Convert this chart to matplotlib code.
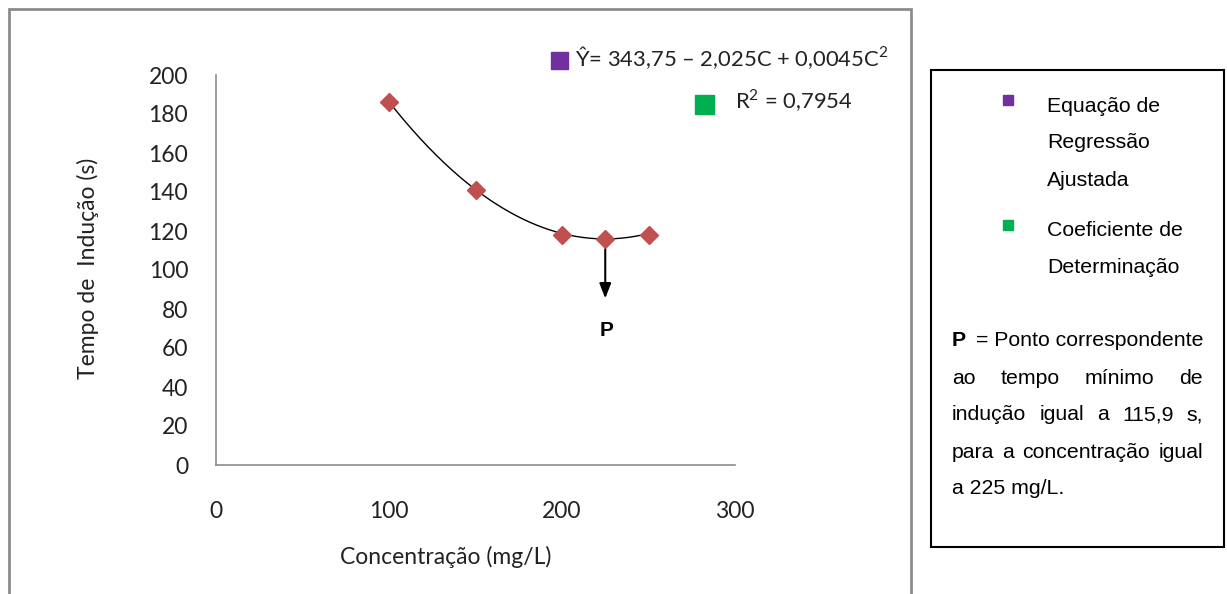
import numpy as np
import matplotlib.pyplot as plt
from matplotlib.patches import Rectangle

# dados
concentracao = [100, 150, 200, 225, 250]
tempo_inducao = [186, 141, 118, 116, 118]

# coeficientes da equacao de regressao (Y = a + bC + cC^2)
coef = [343.75, -2.025, 0.0045]

x_ticks = [0, 100, 200, 300]
y_ticks = list(range(0, 201, 20))

chart_font = "Lato"
box_font = "Liberation Sans"
plt.rcParams["mathtext.fontset"] = "custom"
plt.rcParams["mathtext.rm"] = chart_font

W, H = 1227, 594
fig = plt.figure(figsize=(W / 100, H / 100), dpi=100)
cfs = 16.5
txt = "#222222"


def px(x, y):
    return x / W, 1 - y / H


# moldura externa do grafico
x0, y0 = px(9, 9)
x1, y1 = px(911, 600)
fig.patches.append(Rectangle((x0, y1), x1 - x0, y0 - y1, transform=fig.transFigure,
                             fill=False, edgecolor="#8c8c8c", linewidth=2))

ax = fig.add_axes([216 / W, 1 - 465 / H, (735 - 216) / W, (465 - 75) / H])
ax.set_xlim(0, 300)
ax.set_ylim(0, 200)
ax.set_xticks(x_ticks)
ax.set_yticks(y_ticks)
ax.set_xticklabels([str(v) for v in x_ticks], fontfamily=chart_font, fontsize=cfs, color=txt)
ax.set_yticklabels([str(v) for v in y_ticks], fontfamily=chart_font, fontsize=cfs, color=txt)
ax.tick_params(length=0)
ax.tick_params(axis="x", pad=26)
ax.tick_params(axis="y", pad=20)
for s in ["top", "right"]:
    ax.spines[s].set_visible(False)
for s in ["left", "bottom"]:
    ax.spines[s].set_color("#8c8c8c")
    ax.spines[s].set_linewidth(1.2)

cc = np.linspace(min(concentracao), max(concentracao), 200)
ax.plot(cc, coef[0] + coef[1] * cc + coef[2] * cc ** 2, color="black", linewidth=1.0, zorder=2)
ax.plot(concentracao, tempo_inducao, linestyle="none", marker="D", markersize=9,
        color="#C0504D", zorder=3)

# seta indicando o ponto minimo
ax.annotate("", xy=(225, 84), xytext=(225, 112),
            arrowprops=dict(arrowstyle="-|>,head_width=0.35,head_length=0.9",
                            color="black", linewidth=1.5))
ax.text(226, 69, "P", ha="center", va="center", fontsize=15, fontweight="bold",
        fontfamily="Liberation Sans")

fig.text(*px(88, 268), "Tempo de  Indução (s)", rotation=90, ha="center", va="center",
         fontfamily=chart_font, fontsize=cfs, color=txt)
fig.text(*px(446, 557), "Concentração (mg/L)", ha="center", va="center",
         fontfamily=chart_font, fontsize=cfs, color=txt)

# equacao e R2
fig.patches.append(Rectangle(px(551, 69), 17 / W, 17 / H, transform=fig.transFigure,
                             color="#7030A0"))
fig.text(*px(575, 58), "Ŷ= 343,75 – 2,025C + 0,0045C$^2$", ha="left", va="center",
         fontfamily=chart_font, fontsize=15.8, color=txt)
fig.patches.append(Rectangle(px(695, 114), 19 / W, 19 / H, transform=fig.transFigure,
                             color="#00B050"))
fig.text(*px(735, 101), "R$^2$ = 0,7954", ha="left", va="center",
         fontfamily=chart_font, fontsize=15.8, color=txt)

# caixa de legenda
bx0, by0 = px(931, 70)
bx1, by1 = px(1224, 547)
fig.patches.append(Rectangle((bx0, by1), bx1 - bx0, by0 - by1, transform=fig.transFigure,
                             fill=False, edgecolor="black", linewidth=1.5))
fig.patches.append(Rectangle(px(1003, 105), 10 / W, 10 / H, transform=fig.transFigure,
                             color="#7030A0"))
fig.patches.append(Rectangle(px(1003, 230), 10 / W, 10 / H, transform=fig.transFigure,
                             color="#00B050"))

fs = 15.3
for y, t in [(106, "Equação de"), (143, "Regressão"), (180, "Ajustada"),
             (231, "Coeficiente de"), (268, "Determinação")]:
    fig.text(*px(1047, y), t, ha="left", va="center", fontfamily=box_font, fontsize=fs)

fig.text(*px(952, 341), "P", ha="left", va="center", fontfamily=box_font, fontsize=fs,
         fontweight="bold", color="black")
fig.text(*px(1203, 341), "= Ponto correspondente", ha="right", va="center",
         fontfamily=box_font, fontsize=fs)

# linhas justificadas
justificadas = [
    (378, ["ao", "tempo", "mínimo", "de"]),
    (415, ["indução", "igual", "a", "115,9", "s,"]),
    (452, ["para", "a", "concentração", "igual"]),
]
renderer = fig.canvas.get_renderer()
for y, palavras in justificadas:
    arts = [fig.text(0, 0, p, fontfamily=box_font, fontsize=fs, va="center") for p in palavras]
    larguras = [a.get_window_extent(renderer).width for a in arts]
    espaco = (1203 - 952 - sum(larguras)) / (len(palavras) - 1)
    xpos = 952
    for a, w in zip(arts, larguras):
        a.set_position(px(xpos, y))
        xpos += w + espaco
fig.text(*px(952, 489), "a 225 mg/L.", ha="left", va="center", fontfamily=box_font, fontsize=fs)

fig.savefig("out.png", dpi=100)
